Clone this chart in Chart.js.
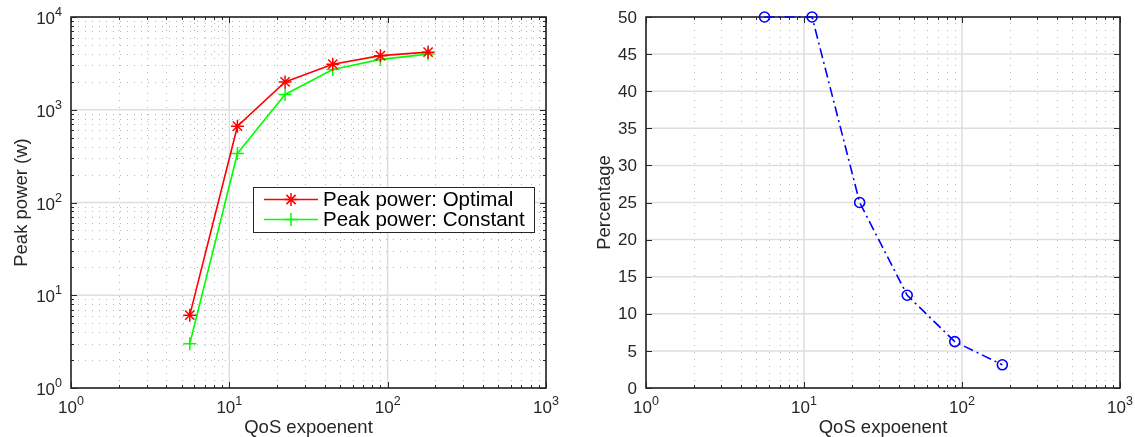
<!DOCTYPE html>
<html><head><meta charset="utf-8">
<script src="https://cdn.jsdelivr.net/npm/chart.js@4.4.1/dist/chart.umd.min.js"></script>
<style>
html,body{margin:0;padding:0;background:#fff;width:1135px;height:437px;overflow:hidden}
.wrap{position:absolute;top:0;height:437px}
</style></head><body>
<div class="wrap" style="left:0;width:575px"><canvas id="c1" width="575" height="437"></canvas></div>
<div class="wrap" style="left:575px;width:560px"><canvas id="c2" width="560" height="437"></canvas></div>
<script>
// ---------- data ----------
const qosExponent   = [5.625, 11.25, 22.5, 45, 90, 180];
const peakOptimal   = [6.1, 665, 1995, 3100, 3830, 4180];
const peakConstant  = [3.0, 338, 1462, 2720, 3490, 3980];
const percentage    = [50, 50, 25, 12.5, 6.25, 3.125];
const xDecadeExps   = [0, 1, 2, 3];
const yDecadeExpsL  = [0, 1, 2, 3, 4];
const yTicksRight   = [0, 5, 10, 15, 20, 25, 30, 35, 40, 45, 50];
const legendLabels  = ['Peak power: Optimal', 'Peak power: Constant'];
const xTitleText    = 'QoS expoenent';
const yTitleLeft    = 'Peak power (w)';
const yTitleRight   = 'Percentage';

const FONT = "'Liberation Sans', Arial, Helvetica, sans-serif";
const TXT = '#262626';

function minorLogValues(exps) {
  const out = [];
  for (let i = 0; i < exps.length - 1; i++)
    for (let m = 2; m <= 9; m++) out.push(m * Math.pow(10, exps[i]));
  return out;
}

function supLabel(ctx, base, exp, x, y, align) {
  ctx.font = '17px ' + FONT; const wb = ctx.measureText(base).width;
  ctx.font = '12.5px ' + FONT;  const we = ctx.measureText(exp).width;
  const x0 = align === 'center' ? x - (wb + we) / 2 : x - (wb + we);
  ctx.textAlign = 'left'; ctx.textBaseline = 'alphabetic'; ctx.fillStyle = TXT;
  ctx.font = '17px ' + FONT; ctx.fillText(base, x0, y);
  ctx.font = '12.5px ' + FONT;  ctx.fillText(exp, x0 + wb, y - 8);
}

function axesPlugin(cfg) {
  return {
    id: 'matlabAxes',
    beforeDatasetsDraw(chart) {
      const {ctx, chartArea: a, scales: {x, y}} = chart;
      ctx.save();
      const xMaj = xDecadeExps.map(e => Math.pow(10, e));
      const xMin = minorLogValues(xDecadeExps);
      const yMaj = cfg.yLog ? yDecadeExpsL.map(e => Math.pow(10, e)) : yTicksRight;
      const yMin = cfg.yLog ? minorLogValues(yDecadeExpsL) : [];
      // minor dotted grid
      ctx.strokeStyle = '#b5b5b5'; ctx.lineWidth = 1; ctx.setLineDash([1, 6]);
      ctx.beginPath();
      xMin.forEach(v => { const p = Math.round(x.getPixelForValue(v)) + 0.5; ctx.moveTo(p, a.bottom); ctx.lineTo(p, a.top); });
      yMin.forEach(v => { const p = Math.round(y.getPixelForValue(v)) + 0.5; ctx.moveTo(a.left, p); ctx.lineTo(a.right, p); });
      ctx.stroke();
      // major grid
      ctx.setLineDash([]); ctx.strokeStyle = '#dedede'; ctx.lineWidth = 1.5;
      ctx.beginPath();
      xMaj.forEach(v => { const p = x.getPixelForValue(v); ctx.moveTo(p, a.bottom); ctx.lineTo(p, a.top); });
      yMaj.forEach(v => { const p = y.getPixelForValue(v); ctx.moveTo(a.left, p); ctx.lineTo(a.right, p); });
      ctx.stroke();
      // ticks (inward, all sides)
      ctx.strokeStyle = TXT; ctx.lineWidth = 1;
      ctx.beginPath();
      const tx = (v, L) => { const p = Math.round(x.getPixelForValue(v)) + 0.5;
        ctx.moveTo(p, a.bottom); ctx.lineTo(p, a.bottom - L); ctx.moveTo(p, a.top); ctx.lineTo(p, a.top + L); };
      const ty = (v, L) => { const p = Math.round(y.getPixelForValue(v)) + 0.5;
        ctx.moveTo(a.left, p); ctx.lineTo(a.left + L, p); ctx.moveTo(a.right, p); ctx.lineTo(a.right - L, p); };
      xMaj.forEach(v => tx(v, 6)); xMin.forEach(v => tx(v, 3));
      yMaj.forEach(v => ty(v, 6)); yMin.forEach(v => ty(v, 3));
      ctx.stroke();
      // box
      ctx.lineWidth = 1.6; ctx.strokeStyle = TXT;
      ctx.strokeRect(a.left, a.top, a.right - a.left, a.bottom - a.top);
      // x tick labels
      xDecadeExps.forEach(e => supLabel(ctx, '10', String(e), x.getPixelForValue(Math.pow(10, e)), a.bottom + 25, 'center'));
      // y tick labels
      if (cfg.yLog) {
        yDecadeExpsL.forEach(e => supLabel(ctx, '10', String(e), a.left - 9, y.getPixelForValue(Math.pow(10, e)) + 7, 'right'));
      } else {
        ctx.font = '17px ' + FONT; ctx.fillStyle = TXT; ctx.textAlign = 'right'; ctx.textBaseline = 'middle';
        yTicksRight.forEach(v => ctx.fillText(String(v), a.left - 9, y.getPixelForValue(v) + 1));
      }
      // titles
      ctx.font = '18.5px ' + FONT; ctx.fillStyle = TXT; ctx.textAlign = 'center'; ctx.textBaseline = 'alphabetic';
      ctx.fillText(xTitleText, (a.left + a.right) / 2, a.bottom + 45);
      ctx.save();
      ctx.translate(cfg.yTitleX, (a.top + a.bottom) / 2);
      ctx.rotate(-Math.PI / 2);
      ctx.fillText(cfg.yTitle, 0, 0);
      ctx.restore();
      ctx.restore();
    },
    afterDatasetsDraw(chart) {
      if (!cfg.legend) return;
      const ctx = chart.ctx;
      ctx.save();
      const bx = 253.5, by = 187.5, bw = 281, bh = 45;
      ctx.fillStyle = '#fff'; ctx.fillRect(bx, by, bw, bh);
      ctx.strokeStyle = TXT; ctx.lineWidth = 1; ctx.strokeRect(bx, by, bw, bh);
      const rows = [199.5, 219.5];
      chart.data.datasets.forEach((ds, i) => {
        const yy = rows[i];
        ctx.strokeStyle = ds.borderColor; ctx.lineWidth = ds.borderWidth; ctx.setLineDash([]);
        ctx.beginPath(); ctx.moveTo(264, yy); ctx.lineTo(318, yy); ctx.stroke();
        const r = ds.pointRadius; const cx = 291;
        ctx.lineWidth = ds.pointBorderWidth;
        ctx.beginPath();
        ctx.moveTo(cx, yy - r); ctx.lineTo(cx, yy + r); ctx.moveTo(cx - r, yy); ctx.lineTo(cx + r, yy);
        if (ds.pointStyle === 'star') {
          const d = r * Math.SQRT1_2;
          ctx.moveTo(cx - d, yy - d); ctx.lineTo(cx + d, yy + d); ctx.moveTo(cx - d, yy + d); ctx.lineTo(cx + d, yy - d);
        }
        ctx.stroke();
        ctx.font = '20.5px ' + FONT; ctx.fillStyle = '#000'; ctx.textAlign = 'left'; ctx.textBaseline = 'middle';
        ctx.fillText(legendLabels[i], 323, yy + 1);
      });
      ctx.restore();
    }
  };
}

function scales(yCfg) {
  return {
    x: { type: 'logarithmic', min: 1, max: 1000, position: 'bottom',
         ticks: { display: false }, grid: { display: false }, border: { display: false },
         afterFit: s => { s.height = 49; } },
    y: Object.assign({ position: 'left', ticks: { display: false }, grid: { display: false }, border: { display: false },
         afterFit: s => { s.width = 71; } }, yCfg)
  };
}

const pts = (ys) => qosExponent.map((v, i) => ({ x: v, y: ys[i] }));

new Chart(document.getElementById('c1'), {
  type: 'line',
  data: { datasets: [
    { label: legendLabels[0], data: pts(peakOptimal), borderColor: '#ff0000', borderWidth: 1.6,
      pointStyle: 'star', pointRadius: 6.5, pointBorderWidth: 1.5, pointBorderColor: '#ff0000',
      pointBackgroundColor: '#ff0000', fill: false, tension: 0, clip: false },
    { label: legendLabels[1], data: pts(peakConstant), borderColor: '#00ff00', borderWidth: 1.6,
      pointStyle: 'cross', pointRadius: 6.5, pointBorderWidth: 1.5, pointBorderColor: '#00ff00',
      pointBackgroundColor: '#00ff00', fill: false, tension: 0, clip: false }
  ]},
  options: {
    responsive: false, animation: false, devicePixelRatio: 1,
    layout: { padding: { top: 17, right: 29, left: 0, bottom: 0 }, autoPadding: false },
    plugins: { legend: { display: false }, tooltip: { enabled: false } },
    scales: scales({ type: 'logarithmic', min: 1, max: 10000 })
  },
  plugins: [axesPlugin({ yLog: true, legend: true, yTitle: yTitleLeft, yTitleX: 27 })]
});

new Chart(document.getElementById('c2'), {
  type: 'line',
  data: { datasets: [
    { label: yTitleRight, data: pts(percentage), borderColor: '#0000ff', borderWidth: 1.6,
      borderDash: [10, 4, 2, 4], pointStyle: 'circle', pointRadius: 5, pointBorderWidth: 1.6,
      pointBorderColor: '#0000ff', pointBackgroundColor: 'rgba(0,0,0,0)', fill: false, tension: 0, clip: false }
  ]},
  options: {
    responsive: false, animation: false, devicePixelRatio: 1,
    layout: { padding: { top: 17, right: 15, left: 0, bottom: 0 }, autoPadding: false },
    plugins: { legend: { display: false }, tooltip: { enabled: false } },
    scales: scales({ type: 'linear', min: 0, max: 50 })
  },
  plugins: [axesPlugin({ yLog: false, legend: false, yTitle: yTitleRight, yTitleX: 35 })]
});
</script>
</body></html>
